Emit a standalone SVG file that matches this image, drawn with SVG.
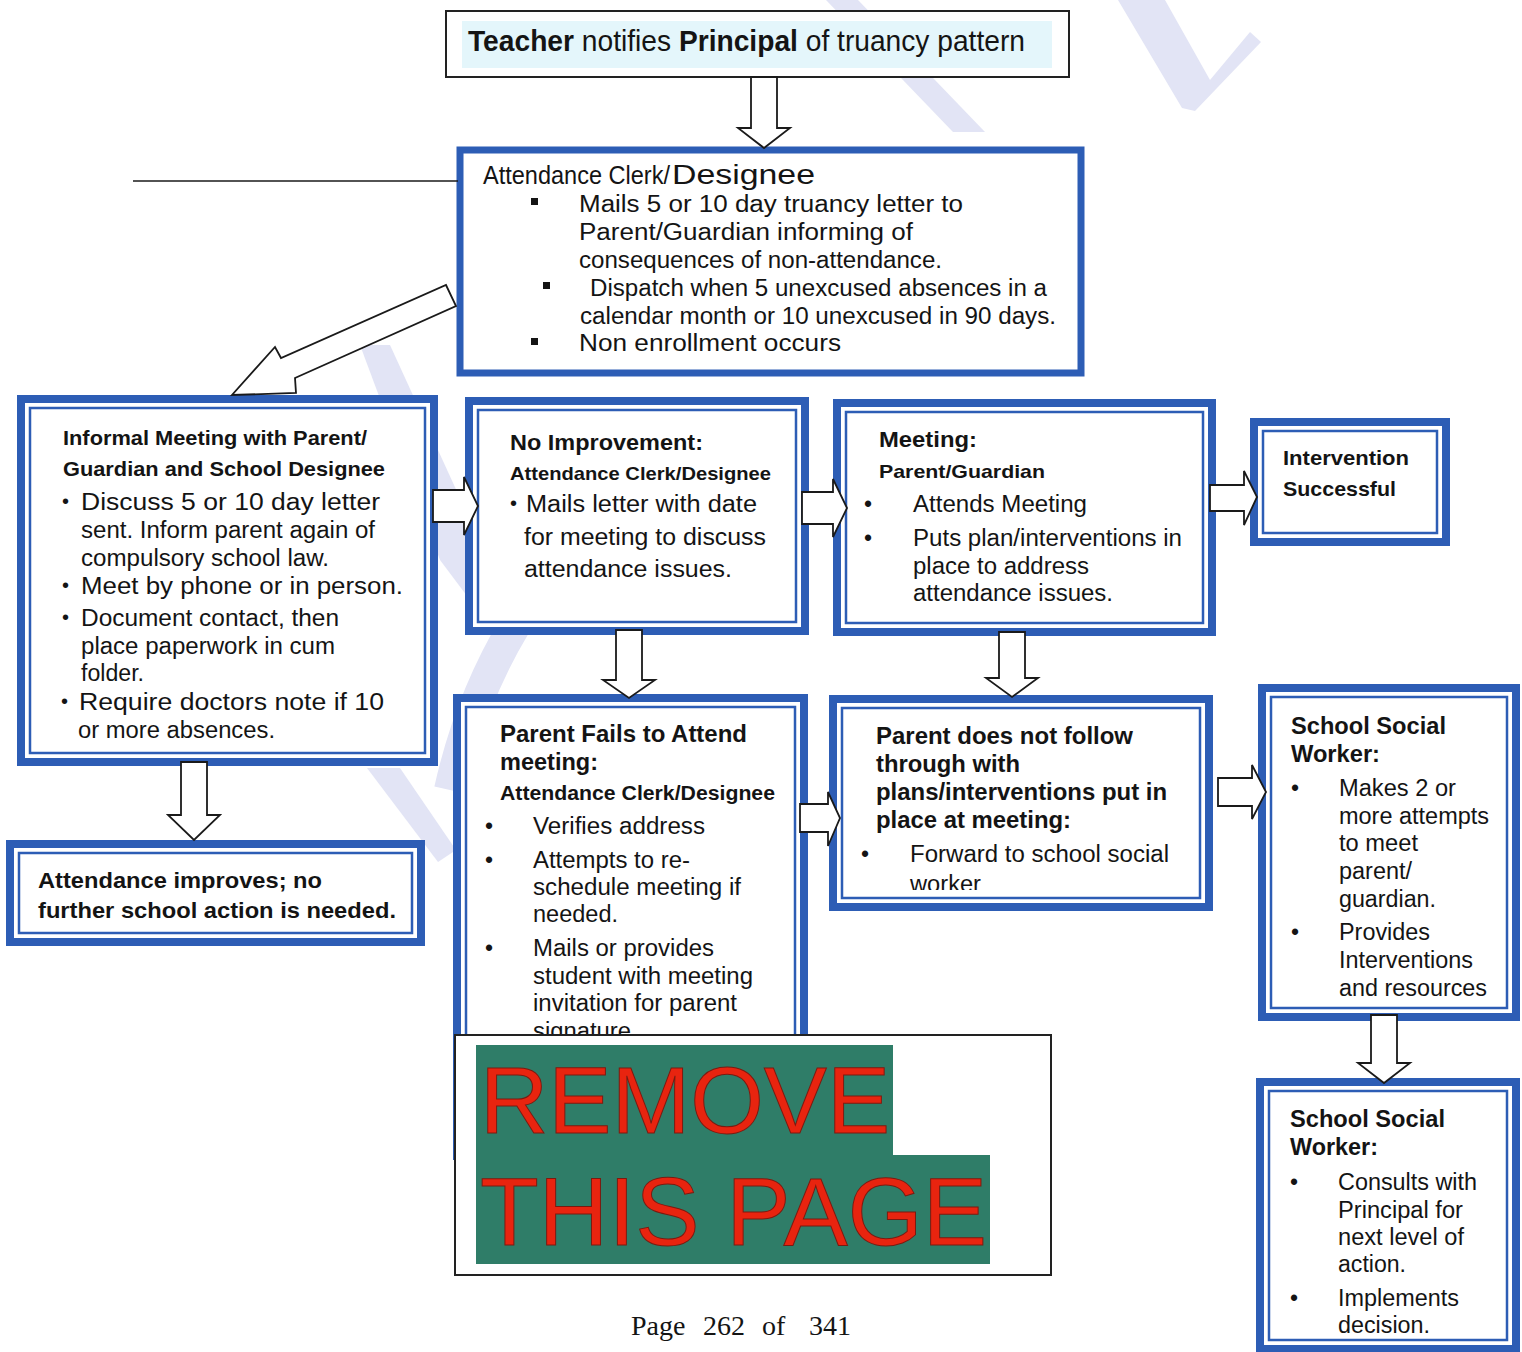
<svg xmlns="http://www.w3.org/2000/svg" width="1522" height="1352" viewBox="0 0 1522 1352">
<style>
text{font-family:"Liberation Sans",Arial,sans-serif;fill:#141414}
.b{font-weight:bold}
.box{fill:#fff;stroke:#2d5db5;stroke-width:8}
.in{fill:none;stroke:#2d5db5;stroke-width:2.5}
.arr{fill:#fff;stroke:#1a1a1a;stroke-width:1.8;stroke-linejoin:miter}
.wm{fill:#e2e4f5}
.s23{font-size:23px}
</style>
<defs>
<clipPath id="clipWorker"><rect x="840" y="700" width="370" height="190"/></clipPath>
</defs>

<g id="watermark">
<polygon class="wm" points="1118,0 1165,0 1210,80 1250,32 1261,42 1195,111 1182,108"/>
<polygon class="wm" points="826,0 858,0 985,132 953,132"/>
<polygon class="wm" points="360,345 390,345 470,520 470,600 440,560"/>
<polygon class="wm" points="367,768 400,768 456,850 438,862"/>
<path d="M 515 625 Q 470 700 450 790" fill="none" stroke="#e2e4f5" stroke-width="32"/>
</g>

<g id="node-teacher">
<rect x="446" y="11" width="623" height="66" fill="#fff" stroke="#222" stroke-width="2"/>
<rect x="462" y="21" width="590" height="47" fill="#e4f6fb"/>
<text x="468" y="51" font-size="29" textLength="557" lengthAdjust="spacingAndGlyphs"><tspan class="b">Teacher</tspan> notifies <tspan class="b">Principal</tspan> of truancy pattern</text>
</g>

<g id="node-clerk">
<rect x="460" y="150" width="621" height="223" fill="#fff" stroke="#2d5db5" stroke-width="7"/>
<text x="483" y="184" font-size="25" textLength="187" lengthAdjust="spacingAndGlyphs">Attendance Clerk/</text>
<text x="672" y="184" font-size="27" textLength="143" lengthAdjust="spacingAndGlyphs">Designee</text>
<rect x="531" y="198" width="7" height="7" fill="#141414"/>
<rect x="543" y="282" width="7" height="7" fill="#141414"/>
<rect x="531" y="338" width="7" height="7" fill="#141414"/>
<text class="s23" x="579" y="212" textLength="384" lengthAdjust="spacingAndGlyphs">Mails 5 or 10 day truancy letter to</text>
<text class="s23" x="579" y="240" textLength="334" lengthAdjust="spacingAndGlyphs">Parent/Guardian informing of</text>
<text class="s23" x="579" y="268" textLength="363" lengthAdjust="spacingAndGlyphs">consequences of non-attendance.</text>
<text class="s23" x="590" y="296" textLength="457" lengthAdjust="spacingAndGlyphs">Dispatch when 5 unexcused absences in a</text>
<text class="s23" x="580" y="324" textLength="476" lengthAdjust="spacingAndGlyphs">calendar month or 10 unexcused in 90 days.</text>
<text class="s23" x="579" y="351" textLength="262" lengthAdjust="spacingAndGlyphs">Non enrollment occurs</text>
</g>

<g id="node-informal">
<rect class="box" x="21" y="399" width="413" height="363"/>
<rect class="in" x="30" y="408" width="395" height="345"/>
<text class="b" x="63" y="445" font-size="21" textLength="304" lengthAdjust="spacingAndGlyphs">Informal Meeting with Parent/</text>
<text class="b" x="63" y="476" font-size="21" textLength="322" lengthAdjust="spacingAndGlyphs">Guardian and School Designee</text>
<text x="62" y="508" font-size="20">•</text>
<text class="s23" x="81" y="510" textLength="299" lengthAdjust="spacingAndGlyphs">Discuss 5 or 10 day letter</text>
<text class="s23" x="81" y="538" textLength="294" lengthAdjust="spacingAndGlyphs">sent. Inform parent again of</text>
<text class="s23" x="81" y="566" textLength="248" lengthAdjust="spacingAndGlyphs">compulsory school law.</text>
<text x="62" y="592" font-size="20">•</text>
<text class="s23" x="81" y="594" textLength="322" lengthAdjust="spacingAndGlyphs">Meet by phone or in person.</text>
<text x="62" y="624" font-size="20">•</text>
<text class="s23" x="81" y="626" textLength="258" lengthAdjust="spacingAndGlyphs">Document contact, then</text>
<text class="s23" x="81" y="654" textLength="254" lengthAdjust="spacingAndGlyphs">place paperwork in cum</text>
<text class="s23" x="81" y="681" textLength="63" lengthAdjust="spacingAndGlyphs">folder.</text>
<text x="61" y="708" font-size="20">•</text>
<text class="s23" x="79" y="710" textLength="305" lengthAdjust="spacingAndGlyphs">Require doctors note if 10</text>
<text class="s23" x="78" y="738" textLength="197" lengthAdjust="spacingAndGlyphs">or more absences.</text>
</g>

<g id="node-noimprovement">
<rect class="box" x="469" y="401" width="336" height="230"/>
<rect class="in" x="478" y="410" width="318" height="212"/>
<text class="b" x="510" y="450" font-size="22" textLength="193" lengthAdjust="spacingAndGlyphs">No Improvement:</text>
<text class="b" x="510" y="480" font-size="19" textLength="261" lengthAdjust="spacingAndGlyphs">Attendance Clerk/Designee</text>
<text x="510" y="510" font-size="20">•</text>
<text class="s23" x="526" y="512" textLength="231" lengthAdjust="spacingAndGlyphs">Mails letter with date</text>
<text class="s23" x="524" y="545" textLength="242" lengthAdjust="spacingAndGlyphs">for meeting to discuss</text>
<text class="s23" x="524" y="577" textLength="208" lengthAdjust="spacingAndGlyphs">attendance issues.</text>
</g>

<g id="node-meeting">
<rect class="box" x="837" y="403" width="375" height="229"/>
<rect class="in" x="846" y="412" width="357" height="211"/>
<text class="b" x="879" y="447" font-size="22" textLength="98" lengthAdjust="spacingAndGlyphs">Meeting:</text>
<text class="b" x="879" y="478" font-size="19" textLength="166" lengthAdjust="spacingAndGlyphs">Parent/Guardian</text>
<text x="864" y="512" font-size="23">•</text>
<text class="s23" x="913" y="512" textLength="174" lengthAdjust="spacingAndGlyphs">Attends Meeting</text>
<text x="864" y="546" font-size="23">•</text>
<text class="s23" x="913" y="546" textLength="269" lengthAdjust="spacingAndGlyphs">Puts plan/interventions in</text>
<text class="s23" x="913" y="574" textLength="176" lengthAdjust="spacingAndGlyphs">place to address</text>
<text class="s23" x="913" y="601" textLength="200" lengthAdjust="spacingAndGlyphs">attendance issues.</text>
</g>

<g id="node-success">
<rect class="box" x="1254" y="422" width="192" height="120"/>
<rect class="in" x="1263" y="431" width="174" height="102"/>
<text class="b" x="1283" y="465" font-size="21" textLength="126" lengthAdjust="spacingAndGlyphs">Intervention</text>
<text class="b" x="1283" y="496" font-size="21" textLength="113" lengthAdjust="spacingAndGlyphs">Successful</text>
</g>

<g id="node-improves">
<rect class="box" x="10" y="844" width="411" height="98"/>
<rect class="in" x="19" y="853" width="393" height="80"/>
<text class="b" x="38" y="888" font-size="22" textLength="284" lengthAdjust="spacingAndGlyphs">Attendance improves; no</text>
<text class="b" x="38" y="918" font-size="22" textLength="358" lengthAdjust="spacingAndGlyphs">further school action is needed.</text>
</g>

<g id="node-parentfails">
<rect class="box" x="457" y="698" width="347" height="458"/>
<rect class="in" x="466" y="707" width="329" height="440"/>
<text class="b" x="500" y="742" font-size="23" textLength="247" lengthAdjust="spacingAndGlyphs">Parent Fails to Attend</text>
<text class="b" x="500" y="770" font-size="23" textLength="98" lengthAdjust="spacingAndGlyphs">meeting:</text>
<text class="b" x="500" y="800" font-size="20" textLength="275" lengthAdjust="spacingAndGlyphs">Attendance Clerk/Designee</text>
<text x="485" y="834" font-size="23">•</text>
<text class="s23" x="533" y="834" textLength="172" lengthAdjust="spacingAndGlyphs">Verifies address</text>
<text x="485" y="868" font-size="23">•</text>
<text class="s23" x="533" y="868" textLength="157" lengthAdjust="spacingAndGlyphs">Attempts to re-</text>
<text class="s23" x="533" y="895" textLength="208" lengthAdjust="spacingAndGlyphs">schedule meeting if</text>
<text class="s23" x="533" y="922" textLength="85" lengthAdjust="spacingAndGlyphs">needed.</text>
<text x="485" y="956" font-size="23">•</text>
<text class="s23" x="533" y="956" textLength="181" lengthAdjust="spacingAndGlyphs">Mails or provides</text>
<text class="s23" x="533" y="984" textLength="220" lengthAdjust="spacingAndGlyphs">student with meeting</text>
<text class="s23" x="533" y="1011" textLength="204" lengthAdjust="spacingAndGlyphs">invitation for parent</text>
<text class="s23" x="533" y="1039" textLength="98" lengthAdjust="spacingAndGlyphs">signature</text>
</g>

<g id="node-notfollow">
<rect class="box" x="833" y="699" width="376" height="208"/>
<rect class="in" x="842" y="708" width="358" height="190"/>
<text class="b" x="876" y="744" font-size="23" textLength="257" lengthAdjust="spacingAndGlyphs">Parent does not follow</text>
<text class="b" x="876" y="772" font-size="23" textLength="144" lengthAdjust="spacingAndGlyphs">through with</text>
<text class="b" x="876" y="800" font-size="23" textLength="291" lengthAdjust="spacingAndGlyphs">plans/interventions put in</text>
<text class="b" x="876" y="828" font-size="23" textLength="195" lengthAdjust="spacingAndGlyphs">place at meeting:</text>
<text x="861" y="862" font-size="23">•</text>
<text class="s23" x="910" y="862" textLength="259" lengthAdjust="spacingAndGlyphs">Forward to school social</text>
<text class="s23" x="910" y="892" textLength="71" lengthAdjust="spacingAndGlyphs" clip-path="url(#clipWorker)">worker</text>
</g>

<g id="node-ssw1">
<rect class="box" x="1262" y="688" width="254" height="329"/>
<rect class="in" x="1271" y="697" width="236" height="311"/>
<text class="b" x="1291" y="734" font-size="23" textLength="155" lengthAdjust="spacingAndGlyphs">School Social</text>
<text class="b" x="1291" y="762" font-size="23" textLength="89" lengthAdjust="spacingAndGlyphs">Worker:</text>
<text x="1291" y="796" font-size="23">•</text>
<text class="s23" x="1339" y="796" textLength="117" lengthAdjust="spacingAndGlyphs">Makes 2 or</text>
<text class="s23" x="1339" y="824" textLength="150" lengthAdjust="spacingAndGlyphs">more attempts</text>
<text class="s23" x="1339" y="851" textLength="79" lengthAdjust="spacingAndGlyphs">to meet</text>
<text class="s23" x="1339" y="879" textLength="73" lengthAdjust="spacingAndGlyphs">parent/</text>
<text class="s23" x="1339" y="907" textLength="97" lengthAdjust="spacingAndGlyphs">guardian.</text>
<text x="1291" y="940" font-size="23">•</text>
<text class="s23" x="1339" y="940" textLength="91" lengthAdjust="spacingAndGlyphs">Provides</text>
<text class="s23" x="1339" y="968" textLength="134" lengthAdjust="spacingAndGlyphs">Interventions</text>
<text class="s23" x="1339" y="996" textLength="148" lengthAdjust="spacingAndGlyphs">and resources</text>
</g>

<g id="node-ssw2">
<rect class="box" x="1260" y="1082" width="256" height="267"/>
<rect class="in" x="1269" y="1091" width="238" height="249"/>
<text class="b" x="1290" y="1127" font-size="23" textLength="155" lengthAdjust="spacingAndGlyphs">School Social</text>
<text class="b" x="1290" y="1155" font-size="23" textLength="88" lengthAdjust="spacingAndGlyphs">Worker:</text>
<text x="1290" y="1190" font-size="23">•</text>
<text class="s23" x="1338" y="1190" textLength="139" lengthAdjust="spacingAndGlyphs">Consults with</text>
<text class="s23" x="1338" y="1218" textLength="125" lengthAdjust="spacingAndGlyphs">Principal for</text>
<text class="s23" x="1338" y="1245" textLength="126" lengthAdjust="spacingAndGlyphs">next level of</text>
<text class="s23" x="1338" y="1272" textLength="68" lengthAdjust="spacingAndGlyphs">action.</text>
<text x="1290" y="1306" font-size="23">•</text>
<text class="s23" x="1338" y="1306" textLength="121" lengthAdjust="spacingAndGlyphs">Implements</text>
<text class="s23" x="1338" y="1333" textLength="92" lengthAdjust="spacingAndGlyphs">decision.</text>
</g>

<g id="connectors">
<line x1="133" y1="181" x2="458" y2="181" stroke="#1a1a1a" stroke-width="1.6"/>
<polygon class="arr" points="751,77 777,77 777,128 790,128 764,148 738,128 751,128"/>
<polygon class="arr" points="446,285 456,306 295,378 296,393 232,395 275,347 281,358"/>
<polygon class="arr" points="181,762 207,762 207,815 220,815 194,840 168,815 181,815"/>
<polygon class="arr" points="616,630 642,630 642,680 655,680 629,698 603,680 616,680"/>
<polygon class="arr" points="999,632 1025,632 1025,678 1038,678 1012,697 986,678 999,678"/>
<polygon class="arr" points="1371,1015 1397,1015 1397,1063 1410,1063 1384,1083 1358,1063 1371,1063"/>
<polygon class="arr" points="433,490 464,490 464,477 478,506 464,535 464,522 433,522"/>
<polygon class="arr" points="802,492 833,492 833,479 847,508 833,537 833,524 802,524"/>
<polygon class="arr" points="1210,485 1244,485 1244,471 1257,497 1244,525 1244,511 1210,511"/>
<polygon class="arr" points="800,804 828,804 828,792 840,818 828,846 828,832 800,832"/>
<polygon class="arr" points="1218,778 1252,778 1252,765 1266,792 1252,819 1252,806 1218,806"/>
</g>

<g id="remove-overlay">
<rect x="455" y="1035" width="596" height="240" fill="#fff" stroke="#222" stroke-width="2"/>
<path d="M476 1045 H893 V1155 H990 V1264 H476 Z" fill="#2f7d68"/>
<text x="480" y="1133" font-size="95" stroke="#7a1a10" stroke-width="1" textLength="410" lengthAdjust="spacingAndGlyphs" style="fill:#e8240f">REMOVE</text>
<text x="480" y="1245" font-size="97" stroke="#7a1a10" stroke-width="1" textLength="507" lengthAdjust="spacingAndGlyphs" style="fill:#e8240f">THIS PAGE</text>
</g>

<g id="footer">
<text x="631" y="1335" font-size="28" style="font-family:'Liberation Serif','Times New Roman',serif">Page</text>
<text x="703" y="1335" font-size="28" style="font-family:'Liberation Serif','Times New Roman',serif">262</text>
<text x="762" y="1335" font-size="28" style="font-family:'Liberation Serif','Times New Roman',serif">of</text>
<text x="809" y="1335" font-size="28" style="font-family:'Liberation Serif','Times New Roman',serif">341</text>
</g>
</svg>
